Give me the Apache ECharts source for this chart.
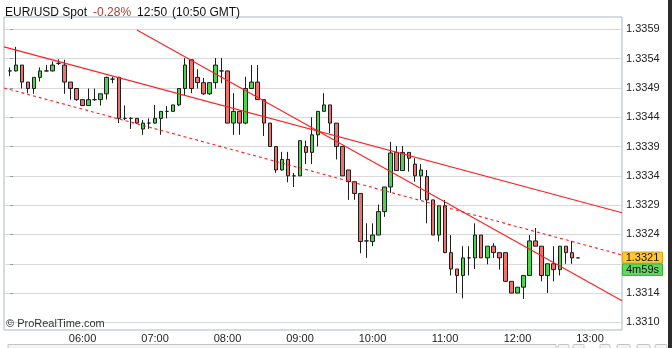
<!DOCTYPE html>
<html><head><meta charset="utf-8">
<script src="https://cdn.jsdelivr.net/npm/echarts@6/dist/echarts.min.js"></script>
<style>html,body{margin:0;padding:0;background:#fff;overflow:hidden}#c{width:672px;height:348px}</style>
</head><body><div id="c"></div>
<script>
// 5-minute candles, 05:00 .. 12:50
const times = ['05:00','05:05','05:10','05:15','05:20','05:25','05:30','05:35','05:40','05:45','05:50','05:55',
'06:00','06:05','06:10','06:15','06:20','06:25','06:30','06:35','06:40','06:45','06:50','06:55',
'07:00','07:05','07:10','07:15','07:20','07:25','07:30','07:35','07:40','07:45','07:50','07:55',
'08:00','08:05','08:10','08:15','08:20','08:25','08:30','08:35','08:40','08:45','08:50','08:55',
'09:00','09:05','09:10','09:15','09:20','09:25','09:30','09:35','09:40','09:45','09:50','09:55',
'10:00','10:05','10:10','10:15','10:20','10:25','10:30','10:35','10:40','10:45','10:50','10:55',
'11:00','11:05','11:10','11:15','11:20','11:25','11:30','11:35','11:40','11:45','11:50','11:55',
'12:00','12:05','12:10','12:15','12:20','12:25','12:30','12:35','12:40','12:45','12:50'];

const openV = [1.33519,1.33519,1.33529,1.33500,1.33489,1.33508,1.33519,1.33519,1.33532,1.33529,1.33500,1.33489,
1.33470,1.33460,1.33470,1.33470,1.33480,1.33505,1.33508,1.33438,1.33438,1.33438,1.33420,1.33430,
1.33430,1.33438,1.33450,1.33450,1.33461,1.33489,1.33538,1.33508,1.33499,1.33480,1.33499,1.33519,
1.33519,1.33430,1.33450,1.33430,1.33489,1.33500,1.33470,1.33430,1.33390,1.33350,1.33368,1.33340,
1.33340,1.33390,1.33380,1.33410,1.33450,1.33461,1.33430,1.33390,1.33350,1.33330,1.33310,1.33229,
1.33228,1.33239,1.33279,1.33321,1.33380,1.33349,1.33380,1.33360,1.33340,1.33339,1.33299,1.33239,
1.33289,1.33209,1.33181,1.33170,1.33200,1.33200,1.33239,1.33200,1.33220,1.33209,1.33209,1.33160,
1.33140,1.33150,1.33170,1.33229,1.33220,1.33170,1.33190,1.33180,1.33220,1.33209,1.33200];

const closeV = [1.33519,1.33529,1.33500,1.33489,1.33508,1.33519,1.33519,1.33529,1.33532,1.33500,1.33489,1.33470,
1.33460,1.33470,1.33470,1.33480,1.33508,1.33505,1.33438,1.33438,1.33438,1.33430,1.33430,1.33430,
1.33438,1.33450,1.33450,1.33461,1.33489,1.33529,1.33489,1.33499,1.33480,1.33499,1.33529,1.33519,
1.33430,1.33450,1.33430,1.33489,1.33500,1.33470,1.33430,1.33390,1.33350,1.33368,1.33340,1.33340,
1.33400,1.33380,1.33410,1.33450,1.33461,1.33430,1.33390,1.33340,1.33330,1.33310,1.33228,1.33229,
1.33239,1.33279,1.33321,1.33379,1.33349,1.33380,1.33370,1.33340,1.33350,1.33299,1.33239,1.33289,
1.33209,1.33181,1.33170,1.33200,1.33200,1.33239,1.33200,1.33220,1.33209,1.33200,1.33160,1.33140,
1.33150,1.33170,1.33229,1.33220,1.33170,1.33190,1.33180,1.33220,1.33209,1.33200,1.33200];

const lowV = [1.33510,1.33518,1.33489,1.33481,1.33480,1.33501,1.33518,1.33518,1.33529,1.33480,1.33470,1.33468,
1.33460,1.33460,1.33468,1.33460,1.33470,1.33498,1.33430,1.33435,1.33420,1.33429,1.33410,1.33420,
1.33429,1.33410,1.33438,1.33449,1.33459,1.33478,1.33481,1.33489,1.33478,1.33478,1.33489,1.33498,
1.33430,1.33410,1.33410,1.33428,1.33489,1.33470,1.33408,1.33390,1.33345,1.33349,1.33329,1.33321,
1.33340,1.33360,1.33360,1.33390,1.33450,1.33413,1.33368,1.33340,1.33299,1.33299,1.33208,1.33200,
1.33220,1.33239,1.33270,1.33311,1.33349,1.33349,1.33347,1.33330,1.33299,1.33259,1.33239,1.33228,
1.33208,1.33170,1.33140,1.33131,1.33170,1.33181,1.33200,1.33189,1.33200,1.33180,1.33160,1.33140,
1.33140,1.33130,1.33170,1.33220,1.33160,1.33140,1.33160,1.33170,1.33190,1.33190,1.33200];

const highV = [1.33525,1.33560,1.33529,1.33500,1.33508,1.33525,1.33529,1.33535,1.33539,1.33538,1.33500,1.33489,
1.33470,1.33489,1.33489,1.33480,1.33509,1.33509,1.33509,1.33460,1.33440,1.33438,1.33435,1.33438,
1.33461,1.33450,1.33459,1.33461,1.33489,1.33541,1.33538,1.33522,1.33507,1.33499,1.33541,1.33541,
1.33519,1.33481,1.33450,1.33509,1.33529,1.33529,1.33470,1.33430,1.33390,1.33381,1.33381,1.33345,
1.33400,1.33400,1.33440,1.33450,1.33481,1.33461,1.33430,1.33390,1.33350,1.33330,1.33310,1.33259,
1.33259,1.33291,1.33321,1.33398,1.33391,1.33391,1.33380,1.33370,1.33360,1.33350,1.33299,1.33289,
1.33299,1.33239,1.33181,1.33220,1.33220,1.33259,1.33239,1.33220,1.33225,1.33209,1.33209,1.33160,
1.33150,1.33170,1.33239,1.33251,1.33220,1.33190,1.33220,1.33220,1.33220,1.33229,1.33200];

// axis ticks / labels
const yTickValues = [1.3309,1.3314,1.3319,1.3324,1.3329,1.3334,1.3339,1.3344,1.3349,1.3354,1.3359];
const yLabelValues = [1.3309,1.3314,1.3324,1.3329,1.3334,1.3339,1.3344,1.3349,1.3354,1.3359];
const yLabelTexts = ['1.3310','1.3314','1.3324','1.3329','1.3334','1.3339','1.3344','1.3349','1.3354','1.3359'];
const xTickIdx = [12,24,36,48,60,72,84,96];
const xTickLabels = ['06:00','07:00','08:00','09:00','10:00','11:00','12:00','13:00'];

// trend lines: [candle index, price]
const trendUpper = [[-1,1.33560],[101.3,1.33277]];
const trendSteep = [[21,1.33589],[101.3,1.33127]];
const trendDashed = [[-1,1.33490],[101.3,1.33205]];

const lastPriceText = '1.3321';
const countdownText = '4m59s';

const FONT = 'Liberation Sans, Arial, Helvetica, sans-serif';
const candleData = times.map((t,i)=>[i, openV[i], closeV[i], lowV[i], highV[i]]);

const chart = echarts.init(document.getElementById('c'), null, {renderer:'canvas'});
const option = {
  animation:false,
  backgroundColor:'#ffffff',
  textStyle:{fontFamily:FONT},
  title:{
    left:5, top:4, padding:0,
    text:'{a|EUR/USD Spot}{g|}{r|-0.28%}{g|}{a|12:50}{h|}{a|(10:50 GMT)}',
    textStyle:{fontWeight:'normal', rich:{
      a:{fontSize:12, color:'#111', fontFamily:FONT, fontWeight:'normal'},
      r:{fontSize:12, color:'#a8403c', fontFamily:FONT, fontWeight:'normal'},
      g:{width:6}, h:{width:5}
    }}
  },
  grid:{left:4, right:50, top:17, bottom:18, show:true, borderColor:'#a9b7c5', borderWidth:1, backgroundColor:'#fff'},
  xAxis:{
    type:'value', min:-1, max:101.3,
    axisLine:{show:false}, splitLine:{show:false},
    axisTick:{show:false, customValues:xTickIdx},
    axisLabel:{customValues:xTickIdx, margin:3, fontSize:11, color:'#222', fontFamily:FONT,
      formatter:(v)=>{const k=xTickIdx.indexOf(Math.round(v)); return k>=0?xTickLabels[k]:'';}}
  },
  yAxis:{
    type:'value', position:'right', min:1.33077, max:1.33611, scale:true,
    axisLine:{show:false},
    axisTick:{show:true, length:3, customValues:yTickValues, lineStyle:{color:'#999'}},
    splitLine:{show:true, lineStyle:{color:'#d9d9d9', width:1}},
    axisLabel:{customValues:yLabelValues, margin:4, fontSize:11, color:'#222', fontFamily:FONT,
      formatter:(v)=>{for(let i=0;i<yLabelValues.length;i++){if(Math.abs(v-yLabelValues[i])<1e-7)return yLabelTexts[i];}return '';}}
  },
  series:[
    {type:'line', data:trendUpper, symbol:'none', silent:true, lineStyle:{color:'#ff1f1f', width:1.1}, z:3},
    {type:'line', data:trendSteep, symbol:'none', silent:true, lineStyle:{color:'#ff1f1f', width:1.1}, z:3},
    {type:'line', data:trendDashed, symbol:'none', silent:true, lineStyle:{color:'#ff1f1f', width:1.1, type:[3,3]}, z:3},
    {type:'candlestick', data:candleData, barWidth:4, silent:true, z:2,
      dimensions:['idx','open','close','lowest','highest'],
      encode:{x:'idx', y:['open','close','lowest','highest']},
      itemStyle:{color:'#4cd44c', color0:'#ec726e', borderColor:'#1e1e1e', borderColor0:'#1e1e1e', borderColorDoji:'#1e1e1e', borderWidth:1}
    }
  ]
};
chart.setOption(option);

const lastClose = closeV[closeV.length-1];
const yl = chart.convertToPixel({yAxisIndex:0}, lastClose);
chart.setOption({graphic:[
  {type:'text', left:6, top:318, z:50, style:{text:'© ProRealTime.com', fontSize:11, fill:'#333', font:'11px '+FONT}},
  {type:'rect', shape:{x:668, y:0, width:4, height:348}, style:{fill:'#2b2b2b'}, z:50},
  {type:'rect', shape:{x:8, y:344.5, width:548, height:6}, style:{fill:'#f3f3f3', stroke:'#c4c4c4', lineWidth:1}, z:50},
  {type:'rect', shape:{x:558, y:344.5, width:11, height:6, r:1}, style:{fill:'#f3f3f3', stroke:'#c4c4c4', lineWidth:1}, z:50},
  {type:'rect', shape:{x:573, y:344.5, width:11, height:6, r:1}, style:{fill:'#f3f3f3', stroke:'#c4c4c4', lineWidth:1}, z:50},
  {type:'rect', shape:{x:600, y:344.5, width:10, height:6, r:1}, style:{fill:'#f3f3f3', stroke:'#c4c4c4', lineWidth:1}, z:50},
  {type:'rect', shape:{x:617, y:344.5, width:13, height:6, r:1}, style:{fill:'#f3f3f3', stroke:'#c4c4c4', lineWidth:1}, z:50},
  {type:'rect', shape:{x:637, y:344.5, width:13, height:6, r:1}, style:{fill:'#f3f3f3', stroke:'#c4c4c4', lineWidth:1}, z:50},
  {type:'rect', shape:{x:655, y:344.5, width:12, height:6, r:1}, style:{fill:'#f3f3f3', stroke:'#c4c4c4', lineWidth:1}, z:50},
  {type:'rect', shape:{x:622.5, y:yl-5.8, width:40, height:11}, style:{fill:'#fdc92e', stroke:'#d9a21a', lineWidth:1}, z:60},
  {type:'text', x:642.5, y:yl, z:61, style:{text:lastPriceText, font:'11px '+FONT, fill:'#111', align:'center', verticalAlign:'middle'}},
  {type:'rect', shape:{x:622.5, y:yl+6, width:40, height:11.5}, style:{fill:'#62d862', stroke:'#37ac37', lineWidth:1}, z:60},
  {type:'text', x:642.5, y:yl+12, z:61, style:{text:countdownText, font:'11px '+FONT, fill:'#111', align:'center', verticalAlign:'middle'}}
]});
</script>
</body></html>
